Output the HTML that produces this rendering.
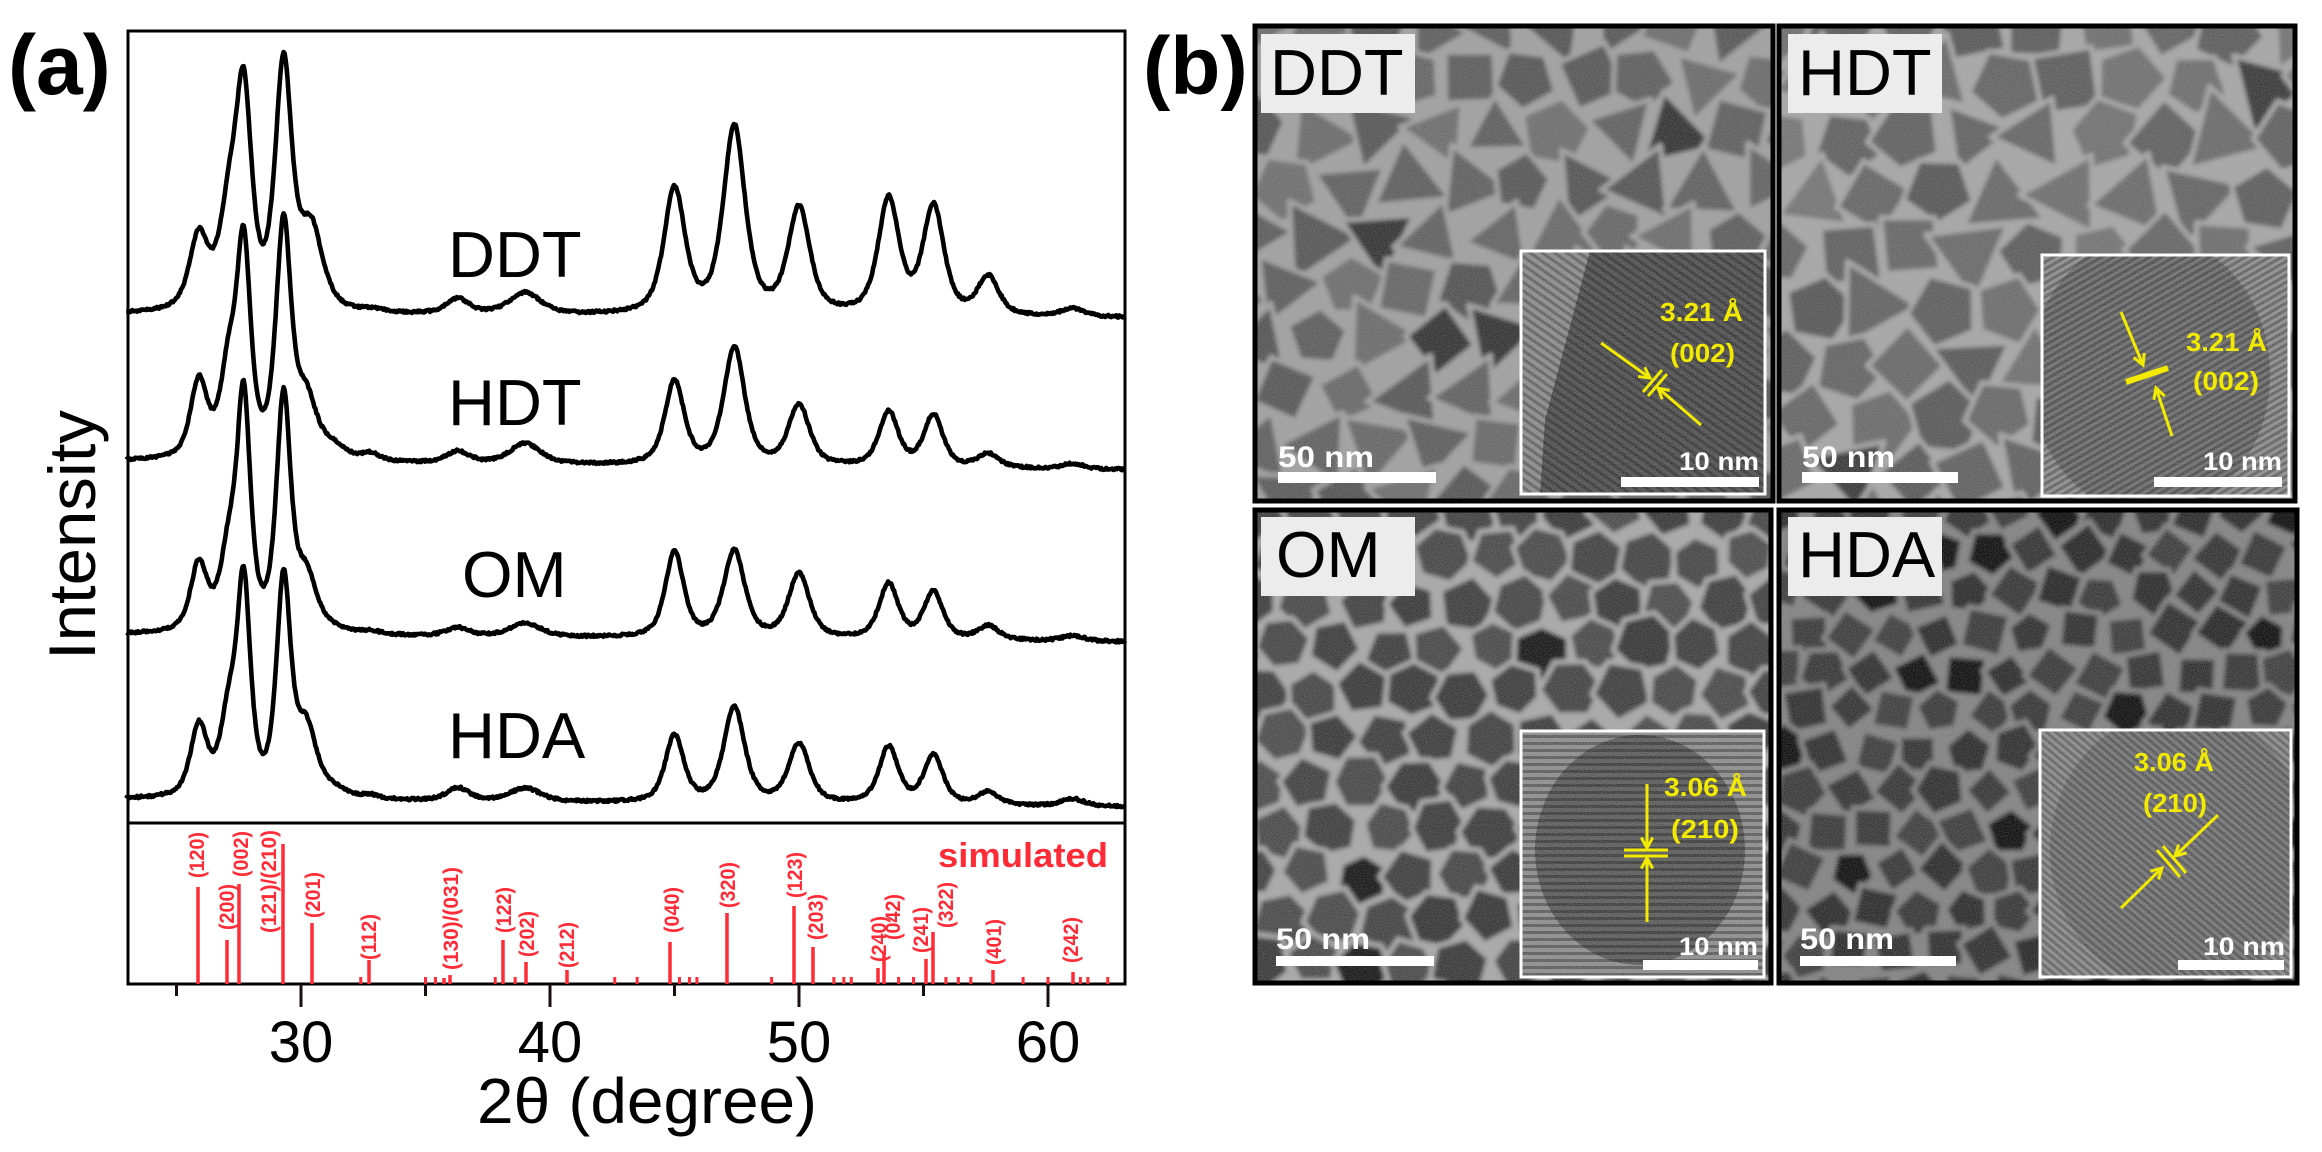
<!DOCTYPE html>
<html><head><meta charset="utf-8">
<style>
html,body{margin:0;padding:0;background:#fff;}
svg{display:block;}
text{font-family:"Liberation Sans",sans-serif;}
</style></head>
<body>
<svg id="s" xmlns="http://www.w3.org/2000/svg" width="2322" height="1152" viewBox="0 0 2322 1152">
<defs>
<filter id="grain" x="0" y="0" width="100%" height="100%">
<feTurbulence type="fractalNoise" baseFrequency="0.9" numOctaves="2" seed="3"/>
<feColorMatrix type="matrix" values="0 0 0 0 0.5  0 0 0 0 0.5  0 0 0 0 0.5  0 0 0 1.2 -0.35"/>
</filter>
<filter id="blur1"><feGaussianBlur stdDeviation="2.2"/></filter>
<pattern id="stripeD" width="7" height="7" patternUnits="userSpaceOnUse" patternTransform="rotate(35)"><rect width="7" height="3" fill="#000" opacity="0.3"/></pattern>
<pattern id="stripeH" width="6" height="6" patternUnits="userSpaceOnUse" patternTransform="rotate(-30)"><rect width="6" height="3" fill="#000" opacity="0.3"/></pattern>
<pattern id="stripeO" width="7" height="7" patternUnits="userSpaceOnUse"><rect width="7" height="3" fill="#000" opacity="0.35"/></pattern>
<pattern id="stripeA" width="6" height="6" patternUnits="userSpaceOnUse" patternTransform="rotate(40)"><rect width="6" height="3" fill="#000" opacity="0.28"/></pattern>
</defs>
<g id="plot"></g>
<g id="tem"></g>
</svg>
<script>
(function(){
function rng(a){return function(){a|=0;a=a+0x6D2B79F5|0;var t=Math.imul(a^a>>>15,1|a);t=t+Math.imul(t^t>>>7,61|t)^t;return((t^t>>>14)>>>0)/4294967296;};}
var X=function(t){return 301+(t-30)*24.9;};
var out=[];
out.push('<rect x="128" y="31" width="997" height="953" fill="none" stroke="#000" stroke-width="3"/>');
out.push('<line x1="128" y1="823" x2="1125" y2="823" stroke="#000" stroke-width="3"/>');
[25,30,35,40,45,50,55,60].forEach(function(t){var maj=(t%10==0);out.push('<line x1="'+X(t)+'" y1="984" x2="'+X(t)+'" y2="'+(maj?1007:996)+'" stroke="#1a1010" stroke-width="3"/>');if(maj)out.push('<text x="'+X(t)+'" y="1062" font-size="58" text-anchor="middle">'+t+'</text>');});
out.push('<text x="477" y="1123" font-size="64" textLength="340" lengthAdjust="spacingAndGlyphs">2θ (degree)</text>');
out.push('<text transform="translate(95,660) rotate(-90)" font-size="66" textLength="250" lengthAdjust="spacingAndGlyphs">Intensity</text>');
out.push('<text x="8" y="94" font-size="84" font-weight="bold">(a)</text>');
out.push('<text x="1143" y="94" font-size="82" font-weight="bold">(b)</text>');
function prof(x,c,w){var d=(x-c)/w;return 0.6/(1+d*d)+0.4*Math.exp(-0.693*d*d);}
function solve(A,b){var n=b.length;A=A.map(function(r,i){return r.concat([b[i]]);});for(var i=0;i<n;i++){var p=i;for(var k=i+1;k<n;k++)if(Math.abs(A[k][i])>Math.abs(A[p][i]))p=k;var t=A[i];A[i]=A[p];A[p]=t;for(var k=0;k<n;k++){if(k==i)continue;var f=A[k][i]/A[i][i];for(var j=i;j<=n;j++)A[k][j]-=f*A[i][j];}}return A.map(function(r,i){return r[n]/r[i];});}
function curve(b0,b1,pk,seed){
 var r=rng(seed);
 var A=pk.map(function(p){return pk.map(function(q){return prof(p[0],q[0],q[2]);});});
 var amp=solve(A,pk.map(function(p){return p[1];}));
 var d='';
 for(var t=22.98;t<=63.1;t+=0.04){var y=b0+(b1-b0)*(t-23)/40;var s=0;for(var i=0;i<pk.length;i++)s+=Math.max(amp[i],0)*prof(t,pk[i][0],pk[i][2]);y-=s;y+=(r()-0.5)*2.4;d+=(d?'L':'M')+X(t).toFixed(1)+' '+y.toFixed(1);}
 out.push('<path d="'+d+'" fill="none" stroke="#000" stroke-width="4.6" stroke-linejoin="round"/>');
}
curve(315,318,[[25.9,87,.45],[27.1,150,.45],[27.7,248,.38],[29.3,262,.4],[30.4,98,.55],[31.3,18,.6],[32.9,8,.4],[36.3,18,.55],[39,24,.75],[45,131,.5],[47.4,193,.52],[50,112,.52],[53.6,122,.5],[55.4,115,.5],[57.6,43,.5],[61,10,.55]],11);
curve(462,470,[[25.9,87,.4],[27.1,130,.4],[27.7,238,.33],[29.3,249,.36],[30.2,82,.5],[31.3,25,.6],[32.8,12,.4],[36.3,14,.55],[39,22,.75],[45,87,.46],[47.4,121,.5],[50,64,.5],[53.6,58,.46],[55.4,55,.46],[57.6,16,.5],[61,6,.55]],22);
curve(635,642,[[25.9,77,.4],[27.1,120,.4],[27.7,255,.32],[29.3,248,.34],[30.2,75,.5],[31.3,15,.6],[32.8,7,.4],[36.3,10,.55],[39,15,.75],[45,88,.44],[47.4,90,.5],[50,67,.5],[53.6,58,.46],[55.4,50,.46],[57.6,16,.5],[61,6,.55]],33);
curve(800,807,[[25.9,80,.4],[27.1,118,.4],[27.7,235,.32],[29.3,232,.34],[30.2,87,.5],[31.3,20,.6],[32.8,8,.4],[36.3,15,.55],[39,15,.75],[45,70,.44],[47.4,98,.5],[50,62,.5],[53.6,60,.46],[55.4,52,.46],[57.6,15,.5],[61,8,.55]],44);
[['DDT',448,277],['HDT',448,425],['OM',462,597],['HDA',448,758]].forEach(function(l){out.push('<text x="'+l[1]+'" y="'+l[2]+'" font-size="65">'+l[0]+'</text>');});
var RED='#ff2b36';
[[198,887],[227,940],[239,884],[283,844],[312,923],[369,960],[444,978],[450,975],[503,940],[526,962],[567,970],[670,942],[727,913],[794,906],[813,947],[878,968],[884,952],[926,959],[933,932],[993,970],[1073,972]].forEach(function(s){out.push('<line x1="'+s[0]+'" y1="984" x2="'+s[0]+'" y2="'+s[1]+'" stroke="'+RED+'" stroke-width="3.5"/>');});
[32.4,35,35.4,37.8,38.6,42.6,43.5,45.2,45.6,45.9,48.9,51.4,51.8,52.1,54,54.6,55.9,56.4,56.9,59,60,61.3,61.6,62.4].forEach(function(t){out.push('<line x1="'+X(t)+'" y1="984" x2="'+X(t)+'" y2="977" stroke="'+RED+'" stroke-width="3"/>');});
[['(120)',196,878],['(200)',226,930],['(002)',240,877],['(121)/(210)',268,933],['(201)',312,918],['(112)',368,960],['(130)/(031)',450,970],['(122)',503,933],['(202)',526,957],['(212)',566,968],['(040)',671,933],['(320)',727,908],['(123)',794,898],['(203)',815,940],['(240)',878,962],['(042)',892,940],['(241)',920,953],['(322)',945,928],['(401)',993,965],['(242)',1070,963]].forEach(function(l){var len=l[0].length>6?103:46;out.push('<text transform="translate('+(l[1]+8)+','+l[2]+') rotate(-90)" font-size="21" font-weight="bold" fill="'+RED+'" textLength="'+len+'" lengthAdjust="spacingAndGlyphs">'+l[0]+'</text>');});
out.push('<text x="938" y="867" font-size="34" font-weight="bold" fill="'+RED+'" textLength="170" lengthAdjust="spacingAndGlyphs">simulated</text>');
document.getElementById('plot').innerHTML=out.join('');

var T=[];
function panel(id,x,y,w,h,o){
 var r=rng(o.seed);
 T.push('<clipPath id="c'+id+'"><rect x="'+x+'" y="'+y+'" width="'+w+'" height="'+h+'"/></clipPath>');
 T.push('<g clip-path="url(#c'+id+')"><rect x="'+x+'" y="'+y+'" width="'+w+'" height="'+h+'" fill="'+o.rim+'"/><g filter="url(#blur1)">');
 var s=o.s;
 for(var j=-1;j*s*0.87<h+s;j++){for(var i=-1;i*s<w+s;i++){
  var cx=x+i*s+(j%2?s/2:0)+(r()-0.5)*s*0.2, cy=y+j*s*0.87+(r()-0.5)*s*0.2;
  var n=o.n[Math.floor(r()*o.n.length)], rot=r()*6.28, R=s*0.56*(0.92+r()*0.16);
  var pts=[];for(var k=0;k<n;k++){var a=rot+k*6.283/n;var rr=R*(0.92+r()*0.16)*(n==3?1.25:n==4?1.05:1);pts.push((cx+rr*Math.cos(a)).toFixed(1)+','+(cy+rr*Math.sin(a)).toFixed(1));}
  var g=o.p+Math.floor((r()-0.5)*o.pv);if(r()<o.dark)g=o.p-45;g=Math.max(10,g);
  T.push('<polygon points="'+pts.join(' ')+'" fill="rgb('+g+','+g+','+g+')" stroke="'+o.rim+'" stroke-width="5" stroke-linejoin="round"/>');
 }}
 T.push('</g><rect x="'+x+'" y="'+y+'" width="'+w+'" height="'+h+'" filter="url(#grain)" opacity="0.5"/></g>');
 T.push('<rect x="'+(x-2)+'" y="'+(y-2)+'" width="'+(w+4)+'" height="'+(h+4)+'" fill="none" stroke="#000" stroke-width="5"/>');
}
panel(1,1257,28,514,471,{seed:5,rim:'#a0a0a0',p:96,pv:30,dark:0.05,s:60,n:[3,3,4,5]});
panel(2,1781,28,512,471,{seed:6,rim:'#a6a6a6',p:102,pv:30,dark:0.06,s:64,n:[3,4,5]});
panel(3,1257,512,512,469,{seed:7,rim:'#a8a8a8',p:64,pv:24,dark:0.06,s:52,n:[6,6,5]});
panel(4,1781,512,514,469,{seed:8,rim:'#828282',p:50,pv:22,dark:0.1,s:46,n:[4,4,5]});
function inset(id,x,y,w,h,bg,inner){
 T.push('<clipPath id="i'+id+'"><rect x="'+x+'" y="'+y+'" width="'+w+'" height="'+h+'"/></clipPath><g clip-path="url(#i'+id+')"><rect x="'+x+'" y="'+y+'" width="'+w+'" height="'+h+'" fill="'+bg+'"/>'+inner+'<rect x="'+x+'" y="'+y+'" width="'+w+'" height="'+h+'" filter="url(#grain)" opacity="0.55"/></g>');
 T.push('<rect x="'+x+'" y="'+y+'" width="'+w+'" height="'+h+'" fill="none" stroke="#fff" stroke-width="3"/>');
}
inset(1,1521,251,244,243,'#8c8c8c','<polygon points="1590,251 1765,251 1765,494 1540,494 1545,420" fill="#4e4e4e"/><rect x="1521" y="251" width="244" height="243" fill="url(#stripeD)"/>');
inset(2,2042,255,247,241,'#8e8e8e','<ellipse cx="2150" cy="375" rx="120" ry="140" fill="#6e6e6e"/><rect x="2042" y="255" width="247" height="241" fill="url(#stripeH)"/>');
inset(3,1521,731,243,246,'#8e8e8e','<ellipse cx="1640" cy="850" rx="105" ry="115" fill="#5a5a5a"/><rect x="1521" y="731" width="243" height="246" fill="url(#stripeO)"/>');
inset(4,2040,730,251,247,'#8c8c8c','<ellipse cx="2180" cy="850" rx="130" ry="140" fill="#777"/><rect x="2040" y="730" width="251" height="247" fill="url(#stripeA)"/>');
[['DDT',1261,34,1270,95],['HDT',1788,34,1798,95],['OM',1261,517,1276,577],['HDA',1788,517,1798,577]].forEach(function(l){T.push('<rect x="'+l[1]+'" y="'+l[2]+'" width="154" height="79" fill="#ececec"/><text x="'+l[3]+'" y="'+l[4]+'" font-size="65">'+l[0]+'</text>');});
function sb(tx,ty,bx,by,bw,bh,txt,fs,tl){T.push('<text x="'+tx+'" y="'+ty+'" font-size="'+fs+'" font-weight="bold" fill="#fff" textLength="'+tl+'" lengthAdjust="spacingAndGlyphs">'+txt+'</text><rect x="'+bx+'" y="'+by+'" width="'+bw+'" height="'+bh+'" fill="#fff"/>');}
sb(1278,467,1278,472,158,11,'50 nm',30,96);sb(1802,467,1802,472,156,11,'50 nm',30,93);
sb(1276,949,1276,956,158,10,'50 nm',30,94);sb(1800,949,1800,956,156,10,'50 nm',30,94);
sb(1679,470,1621,477,138,10,'10 nm',25,80);sb(2203,470,2154,477,128,10,'10 nm',25,79);
sb(1679,955,1643,960,115,10,'10 nm',25,79);sb(2203,955,2178,960,106,10,'10 nm',25,82);
var Y='#f2ea00';
function yt(x,y,t,l){T.push('<text x="'+x+'" y="'+y+'" font-size="26" font-weight="bold" fill="'+Y+'" textLength="'+l+'" lengthAdjust="spacingAndGlyphs">'+t+'</text>');}
yt(1660,321,'3.21 Å',83);yt(1670,362,'(002)',65);
yt(2186,351,'3.21 Å',81);yt(2193,390,'(002)',66);
yt(1664,796,'3.06 Å',83);yt(1671,838,'(210)',68);
yt(2134,771,'3.06 Å',80);yt(2143,812,'(210)',64);
function ar(x1,y1,x2,y2){var a=Math.atan2(y2-y1,x2-x1),L=12;T.push('<line x1="'+x1+'" y1="'+y1+'" x2="'+x2+'" y2="'+y2+'" stroke="'+Y+'" stroke-width="3"/><polyline points="'+(x2-L*Math.cos(a-0.5))+','+(y2-L*Math.sin(a-0.5))+' '+x2+','+y2+' '+(x2-L*Math.cos(a+0.5))+','+(y2-L*Math.sin(a+0.5))+'" fill="none" stroke="'+Y+'" stroke-width="3"/>');}
function bar(x1,y1,x2,y2,w){T.push('<line x1="'+x1+'" y1="'+y1+'" x2="'+x2+'" y2="'+y2+'" stroke="'+Y+'" stroke-width="'+w+'"/>');}
ar(1601,343,1650,378);ar(1701,425,1658,388);bar(1643,392,1662,370,3);bar(1648,396,1667,374,3);
ar(2121,312,2143,365);ar(2172,436,2156,388);bar(2126,382,2168,368,6);
ar(1647,784,1647,848);ar(1647,922,1647,858);bar(1624,850,1668,850,3);bar(1624,856,1668,856,3);
ar(2218,815,2175,856);ar(2121,908,2162,868);bar(2157,850,2180,877,3);bar(2163,846,2186,873,3);
document.getElementById('tem').innerHTML=T.join('');
})();
</script>
</body></html>
